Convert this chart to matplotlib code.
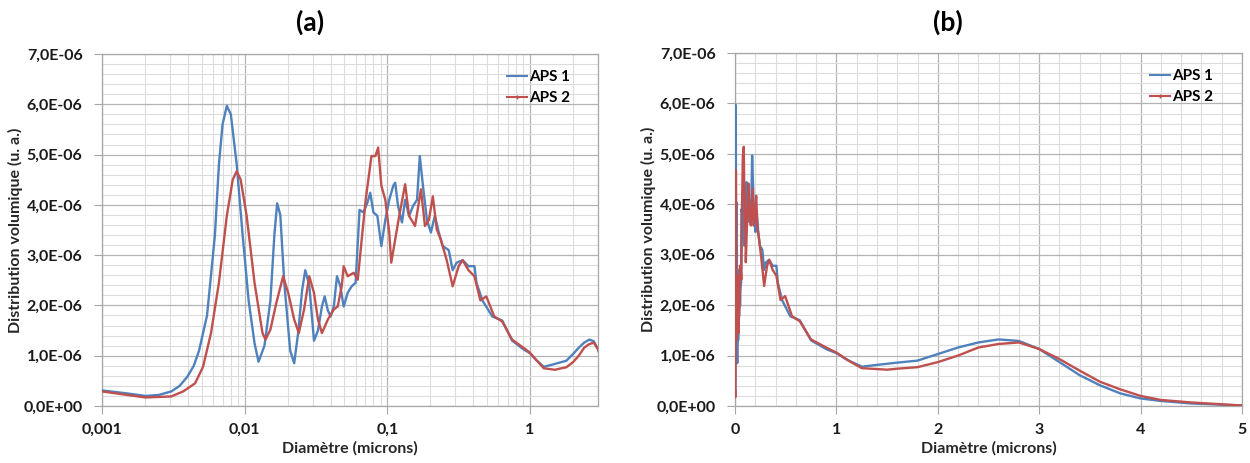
import numpy as np
import matplotlib
matplotlib.use("Agg")
import matplotlib.pyplot as plt
from matplotlib.ticker import FuncFormatter, MultipleLocator, LogLocator, FixedLocator
from matplotlib.lines import Line2D

plt.rcParams['font.family'] = ['Lato', 'DejaVu Sans']

# ---------------- data (diameter in microns, distribution in 1e-6 u.a.) ----------------
aps1_d = [0.00100, 0.00150, 0.00202, 0.00250, 0.00306, 0.00350, 0.00396, 0.00440, 0.00479,
          0.00545, 0.00619, 0.00660, 0.00700, 0.00750, 0.00800, 0.00880, 0.00968, 0.01066,
          0.01173, 0.01251, 0.01377, 0.01516, 0.01616, 0.01690, 0.01778, 0.01896, 0.02086,
          0.02225, 0.02371, 0.02528, 0.02661, 0.02838, 0.03063, 0.03266, 0.03481, 0.03640,
          0.03831, 0.04007, 0.04217, 0.04439, 0.04671, 0.04948, 0.05275, 0.05623, 0.05995,
          0.06391, 0.06813, 0.07263, 0.07596, 0.07994, 0.08522, 0.09085, 0.09685, 0.1032,
          0.1101, 0.1136, 0.1189, 0.1267, 0.1334, 0.1422, 0.1516, 0.1616, 0.1690, 0.1778,
          0.1896, 0.2021, 0.2154, 0.2297, 0.2448, 0.2696, 0.2873, 0.3063, 0.3373, 0.3711,
          0.4084, 0.4217, 0.4642, 0.5447, 0.6391, 0.7499, 0.9085, 1.000, 1.101, 1.251,
          1.422, 1.600, 1.800, 2.000, 2.200, 2.400, 2.600, 2.800, 3.000, 3.200, 3.400,
          3.600, 3.800, 4.000, 4.200, 4.500, 5.000]
aps1_v = [0.31, 0.25, 0.20, 0.22, 0.29, 0.40, 0.58, 0.80, 1.10,
          1.80, 3.40, 4.80, 5.60, 5.97, 5.80, 4.80, 3.40, 2.10,
          1.25, 0.88, 1.20, 2.10, 3.40, 4.03, 3.80, 2.45, 1.10,
          0.85, 1.45, 2.30, 2.70, 2.40, 1.30, 1.50, 1.98, 2.18,
          1.90, 1.78, 1.98, 2.58, 2.40, 1.98, 2.25, 2.38, 2.45,
          3.90, 3.85, 4.05, 4.24, 3.85, 3.78, 3.18, 3.70, 4.10,
          4.38, 4.44, 3.98, 3.65, 4.10, 3.78, 3.98, 4.10, 4.97, 4.38,
          3.70, 3.45, 3.78, 3.45, 3.18, 3.10, 2.70, 2.85, 2.90, 2.78,
          2.78, 2.45, 2.10, 1.78, 1.70, 1.30, 1.12, 1.05, 0.92, 0.78,
          0.82, 0.86, 0.90, 1.03, 1.16, 1.26, 1.32, 1.29, 1.13, 0.87, 0.61,
          0.41, 0.25, 0.15, 0.10, 0.05, 0.01]

aps2_d = [0.00100, 0.00150, 0.00202, 0.00306, 0.00371, 0.00449, 0.00511, 0.00581, 0.00660,
          0.00750, 0.00825, 0.00880, 0.00938, 0.01033, 0.01173, 0.01334, 0.01400, 0.01516,
          0.01668, 0.01861, 0.02020, 0.02225, 0.02398, 0.02610, 0.02838, 0.03063, 0.03266,
          0.03481, 0.03831, 0.04217, 0.04493, 0.04793, 0.04948, 0.05275, 0.05821, 0.06206,
          0.06616, 0.07054, 0.07743, 0.08254, 0.08629, 0.09085, 0.09685, 0.1032, 0.1066,
          0.1136, 0.1212, 0.1334, 0.1422, 0.1565, 0.1722, 0.1836, 0.1957, 0.2086, 0.2224,
          0.2371, 0.2610, 0.2873, 0.3162, 0.3373, 0.3711, 0.4084, 0.4493, 0.4942, 0.5623,
          0.6391, 0.7499, 0.9085, 1.000, 1.136, 1.251, 1.500, 1.600, 1.800, 2.000, 2.200,
          2.400, 2.600, 2.800, 3.000, 3.200, 3.400, 3.600, 3.800, 4.000, 4.200, 4.500, 5.000]
aps2_v = [0.29, 0.22, 0.17, 0.19, 0.29, 0.45, 0.78, 1.45, 2.45,
          3.78, 4.50, 4.67, 4.50, 3.78, 2.45, 1.45, 1.32, 1.52,
          2.05, 2.58, 2.25, 1.72, 1.45, 1.92, 2.58, 2.25, 1.72,
          1.45, 1.72, 1.92, 1.98, 2.38, 2.78, 2.58, 2.65, 2.51,
          3.31, 4.10, 4.97, 4.97, 5.14, 4.38, 4.10, 3.45, 2.85,
          3.31, 3.78, 4.41, 3.78, 3.58, 4.31, 3.58, 3.70, 4.17, 3.51,
          3.31, 2.90, 2.38, 2.78, 2.90, 2.70, 2.58, 2.10, 2.18, 1.78,
          1.68, 1.32, 1.15, 1.06, 0.88, 0.75, 0.72, 0.74, 0.77, 0.87, 1.00,
          1.16, 1.23, 1.26, 1.13, 0.93, 0.70, 0.48, 0.33, 0.20, 0.12, 0.07, 0.01]

series_names = ["APS 1", "APS 2"]
ytick_vals = [0, 1e-6, 2e-6, 3e-6, 4e-6, 5e-6, 6e-6, 7e-6]
xticks_log = [0.001, 0.01, 0.1, 1]
xticklabels_log = ["0,001", "0,01", "0,1", "1"]
xticks_lin = [0, 1, 2, 3, 4, 5]
titles = ["(a)", "(b)"]
xlabel = "Diamètre (microns)"
ylabel = "Distribution volumique (u. a.)"

# ---------------- style ----------------
BLUE = "#4f81bd"
RED = "#c0504d"
W, H = 1250, 463
fig = plt.figure(figsize=(W / 100, H / 100), dpi=100)

def box(l, t, r, b):
    return [l / W, 1 - b / H, (r - l) / W, (b - t) / H]

ax1 = fig.add_axes(box(102, 54, 598, 406))
ax2 = fig.add_axes(box(735, 53, 1242, 406))

y1 = np.array(aps1_v) * 1e-6
y2 = np.array(aps2_v) * 1e-6

sci = FuncFormatter(lambda v, p: f"{v:.1E}".replace(".", ","))

for ax in (ax1, ax2):
    ax.plot(aps1_d, y1, color=BLUE, lw=1.7, zorder=3)
    ax.plot(aps2_d, y2, color=RED, lw=1.7, zorder=4)
    ax.set_ylim(0, 7e-6)
    ax.set_yticks(ytick_vals)
    ax.yaxis.set_major_formatter(sci)
    ax.yaxis.set_minor_locator(MultipleLocator(0.2e-6))
    ax.grid(which="major", color="#b4b4b4", lw=0.9, zorder=0)
    ax.grid(which="minor", color="#dcdcdc", lw=0.8, zorder=0)
    ax.set_axisbelow(True)
    for s in ax.spines.values():
        s.set_color("#a6a6a6")
        s.set_linewidth(0.9)
    ax.tick_params(which="major", length=6, color="#a6a6a6", labelsize=11.5)
    ax.tick_params(axis="y", which="major", pad=8)
    ax.tick_params(axis="x", which="major", pad=6)
    ax.tick_params(which="minor", length=0)
    ax.set_xlabel(xlabel, fontsize=11.5, fontweight="bold", color="#262626", labelpad=3)
    ax.set_ylabel(ylabel, fontsize=11.5, fontweight="bold", color="#262626", labelpad=0)
    handles = [Line2D([0, 0.5, 1], [0, 0, 0], color=BLUE, lw=1.5),
               Line2D([0, 0.5, 1], [0, 0, 0], color=RED, lw=1.5, marker="+", ms=3, markevery=[1])]
    ax.legend(handles, series_names, loc="upper right", frameon=False,
              prop={"weight": "bold", "size": 11}, handlelength=1.3,
              handletextpad=0.15, labelspacing=0.45, borderaxespad=0.3,
              bbox_to_anchor=(0.965, 0.985))

ax1.set_xscale("log")
ax1.set_xlim(0.001, 3)
ax1.xaxis.set_major_locator(FixedLocator(xticks_log))
ax1.set_xticklabels(xticklabels_log)
ax1.xaxis.set_minor_locator(LogLocator(base=10, subs=np.arange(2, 10)))
ax1.xaxis.set_minor_formatter(plt.NullFormatter())

ax2.set_xlim(0, 5)
ax2.set_xticks(xticks_lin)
ax2.xaxis.set_minor_locator(MultipleLocator(0.2))

for ax in (ax1, ax2):
    for lab in ax.get_xticklabels() + ax.get_yticklabels():
        lab.set_fontweight("bold")
        lab.set_color("#1a1a1a")

fig.text(310 / W, 1 - 22 / H, titles[0], ha="center", va="center", fontsize=19, fontweight="bold")
fig.text(948 / W, 1 - 22 / H, titles[1], ha="center", va="center", fontsize=19, fontweight="bold")

fig.savefig("out.png", dpi=100)
